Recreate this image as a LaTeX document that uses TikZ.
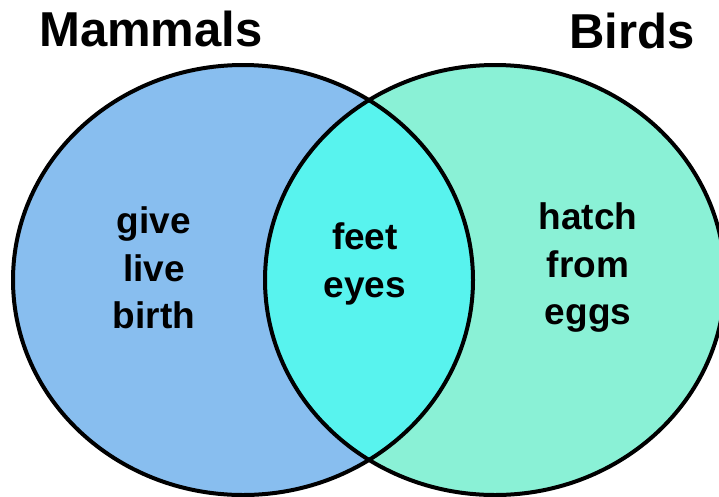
\documentclass[tikz,border=0pt]{standalone}
\usepackage{fontspec}
\setmainfont{Liberation Sans}
\usetikzlibrary{positioning}
\definecolor{mBlue}{HTML}{88BEEF}
\definecolor{mCyan}{HTML}{58F3EE}
\definecolor{mMint}{HTML}{8AF1D6}

\begin{document}
\begin{tikzpicture}[
  x=1pt, y=-1pt,
  title/.style={font=\fontsize{49}{52}\selectfont\bfseries, inner sep=0pt, anchor=base},
  item/.style={font=\fontsize{37}{47.5}\selectfont\bfseries, align=center, inner sep=0pt},
  ring/.style={line width=4pt},
]
  \useasboundingbox (0,0) rectangle (719,496);
  \fill[mBlue] (243,280) ellipse [x radius=230, y radius=215];
  \fill[mMint] (495,280) ellipse [x radius=230, y radius=215];
  \begin{scope}
    \clip (243,280) ellipse [x radius=230, y radius=215];
    \fill[mCyan] (495,280) ellipse [x radius=230, y radius=215];
  \end{scope}
  \draw[ring] (243,280) ellipse [x radius=230, y radius=215];
  \draw[ring] (495,280) ellipse [x radius=230, y radius=215];

  \node[title] (mammals) at (151,46) {Mammals};
  \node[title] (birds) at (632,48) {Birds};

  \node[item] (live) at (154,268) {give\\live\\birth};
  \node[item] (both) at (365,264) {feet\\eyes};
  \node[item] (eggs) at (588,268) {hatch\\from\\eggs};
\end{tikzpicture}
\end{document}
